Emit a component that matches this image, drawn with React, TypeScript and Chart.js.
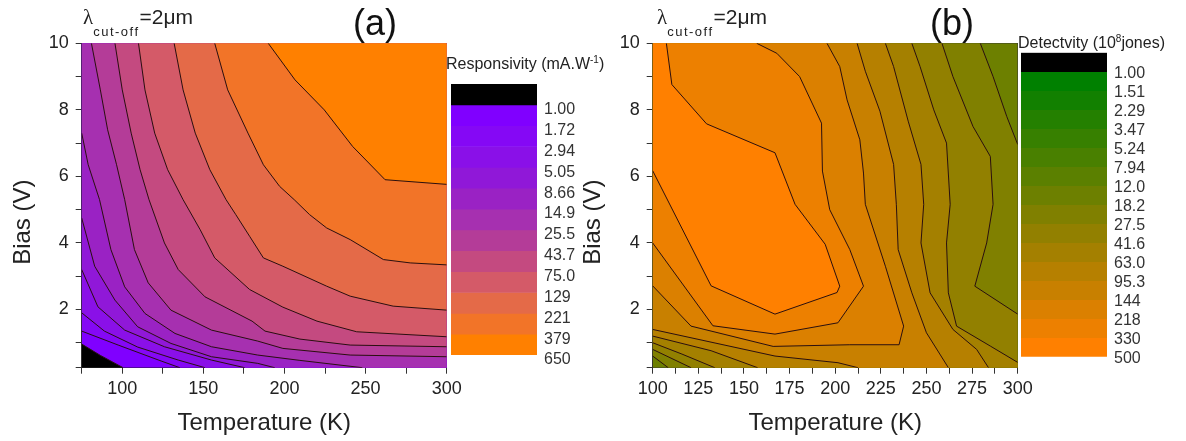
import React, { useEffect, useRef } from 'react';
import { Chart, registerables } from 'chart.js';

Chart.register(...registerables);

type Pt = [number, number];

const FONT = "'Liberation Sans', Arial, Helvetica, sans-serif";
const SERIF = "'Liberation Serif', 'DejaVu Serif', serif";
const LINE_COLOR = '#2a0f0f';

// ---------------- Panel (a): Responsivity (mA/W) ----------------
const respTemperatureRange: Pt = [75, 300];
const respBiasRange: Pt = [0.25, 10];
const respLevelLabels = ['1.00', '1.72', '2.94', '5.05', '8.66', '14.9', '25.5', '43.7', '75.0', '129', '221', '379', '650'];

// contour lines: [Temperature (K), Bias (V)]
const respContour_1_00: Pt[] = [[75, 0.96], [86.5, 0.62], [100.5, 0.25]];
const respContour_1_72: Pt[] = [[75, 1.35], [97.5, 0.93], [124, 0.45], [135.5, 0.25]];
const respContour_2_94: Pt[] = [[75, 1.9], [89, 1.35], [109.5, 0.87], [134.5, 0.48], [151, 0.25]];
const respContour_5_05: Pt[] = [[75, 3.2], [85, 2.08], [101.5, 1.38], [126, 0.88], [155, 0.48], [175.5, 0.25]];
const respContour_8_66: Pt[] = [[75, 4.75], [83, 3.3], [95.5, 2.28], [109.5, 1.48], [130, 0.98], [155, 0.58], [183.5, 0.38], [194, 0.25]];
const respContour_14_9: Pt[] = [[75, 7.3], [79, 6.35], [86, 5.3], [93, 3.8], [101.5, 2.68], [114, 1.88], [132.5, 1.28], [155, 0.88], [183.5, 0.63], [209.5, 0.47], [248, 0.25]];
const respContour_25_5: Pt[] = [[81, 10], [86.5, 8.6], [91, 7.4], [96.5, 6.35], [101.5, 5.3], [107.5, 3.8], [116, 2.8], [130, 1.98], [155, 1.38], [183.5, 1.05], [199, 0.83], [240.5, 0.63], [300, 0.58]];
const respContour_43_7: Pt[] = [[95.5, 10], [100, 8.6], [105.5, 7.3], [111, 6.2], [116.5, 5.3], [126, 4.0], [134.5, 3.2], [151, 2.38], [180, 1.65], [188, 1.35], [209.5, 1.11], [240.5, 0.93], [300, 0.88]];
const respContour_75_0: Pt[] = [[110, 10], [114, 8.6], [120, 7.3], [128, 6.2], [137.5, 5.3], [148, 4.4], [157, 3.55], [178.5, 2.6], [199, 2.07], [220, 1.65], [244.5, 1.33], [300, 1.18]];
const respContour_129: Pt[] = [[132, 10], [137.5, 8.6], [145, 7.3], [154, 6.2], [164, 5.3], [170, 4.85], [178.5, 4.2], [187, 3.55], [199, 3.3], [226, 2.7], [240.5, 2.4], [267, 2.1], [300, 1.98]];
const respContour_221: Pt[] = [[157, 10], [165, 8.6], [177.5, 7.3], [187, 6.35], [197, 5.7], [206, 5.3], [215.5, 4.85], [226, 4.45], [240.5, 4.1], [261, 3.5], [277.5, 3.4], [300, 3.34]];
const respContour_379: Pt[] = [[190, 10], [206.5, 8.9], [224.5, 8.0], [242, 6.9], [262, 5.9], [300, 5.76]];

// colour of each band: below 1.00, then 1.00-1.72 ... 379-650
const respBandColors = ['#000000', '#8000ff', '#8508f5', '#8a10e8', '#9018d8', '#9a22c4', '#a630b0', '#b43c98', '#c44a80', '#d45a68', '#e46a48', '#f27428', '#ff8000'];

// ---------------- Panel (b): Detectivity (1e8 Jones) ----------------
const detTemperatureRange: Pt = [100, 300];
const detBiasRange: Pt = [0.25, 10];
const detLevelLabels = ['1.00', '1.51', '2.29', '3.47', '5.24', '7.94', '12.0', '18.2', '27.5', '41.6', '63.0', '95.3', '144', '218', '330', '500'];

const detContour_330: Pt[] = [[107.5, 10], [110.5, 8.76], [129.5, 7.58], [167, 6.71], [178, 5.16], [194.5, 3.96], [202.5, 2.7], [201, 2.51], [167, 1.86], [132, 2.71], [100, 6.17]];
const detContour_218: Pt[] = [[157, 10], [168, 9.7], [180.5, 9.0], [192.5, 7.6], [193, 6.16], [197, 5.0], [208, 3.8], [215.5, 2.7], [201.5, 1.6], [167, 1.26], [133, 1.51], [100, 4.0]];
const detContour_144: Pt[] = [[195.5, 10], [202.5, 9.3], [206.5, 8.3], [213.5, 7.1], [215.5, 6.1], [216.5, 5.16], [227.5, 3.3], [237.5, 1.5], [235, 0.94], [208, 0.94], [166, 0.89], [121, 1.5], [100, 2.71]];
const detContour_95_3: Pt[] = [[212, 10], [216.5, 9.16], [224.5, 7.96], [232, 6.36], [233.5, 5.16], [234.5, 3.8], [242, 2.5], [250, 1.3], [262, 0.25]];
const detContour_95_3_low: Pt[] = [[100, 1.4], [167, 0.6], [201.5, 0.4], [212.5, 0.25]];
const detContour_63_0: Pt[] = [[227.5, 10], [232, 9.3], [240, 7.66], [247, 6.36], [248.5, 5.16], [247, 4.0], [252, 2.5], [264.5, 1.4], [277.5, 0.8], [284, 0.25]];
const detContour_63_0_low: Pt[] = [[100, 1.2], [132, 0.76], [157.5, 0.25]];
const detContour_41_6: Pt[] = [[242, 10], [246.5, 9.3], [254, 8.0], [261, 7.0], [263, 5.16], [261, 4.0], [262, 2.5], [266.5, 1.5], [285, 0.9], [300, 0.41]];
const detContour_41_6_low: Pt[] = [[100, 1.0], [116, 0.66], [134, 0.25]];
const detContour_27_5: Pt[] = [[258.5, 10], [264.5, 9.0], [275.5, 7.5], [285, 6.6], [286.5, 5.16], [283, 4.0], [276.5, 2.7], [300, 1.86]];
const detContour_27_5_low: Pt[] = [[100, 0.8], [121, 0.25]];
const detContour_18_2: Pt[] = [[279.5, 10], [286.5, 9.0], [294, 7.8], [300, 6.96]];
const detContour_18_2_low: Pt[] = [[100, 0.6], [108.5, 0.25]];

// colour of each band: below 1.00, then 1.00-1.51 ... 330-500
const detBandColors = ['#000000', '#008000', '#128000', '#248000', '#378000', '#498000', '#5b8000', '#6d8000', '#808000', '#928000', '#a48000', '#b68000', '#c88000', '#db8000', '#ed8000', '#ff8000'];

// ---------------- region building ----------------
function corners(xr: Pt, yr: Pt) {
  return {
    BL: [xr[0], yr[0]] as Pt,
    BR: [xr[1], yr[0]] as Pt,
    TR: [xr[1], yr[1]] as Pt,
    TL: [xr[0], yr[1]] as Pt,
  };
}
const rev = (p: Pt[]) => [...p].reverse();

const rc = corners(respTemperatureRange, respBiasRange);
const respRegions: Pt[][] = [
  [rc.BL, rc.BR, rc.TR, rc.TL],
  [...respContour_1_00, rc.BR, rc.TR, rc.TL],
  [...respContour_1_72, rc.BR, rc.TR, rc.TL],
  [...respContour_2_94, rc.BR, rc.TR, rc.TL],
  [...respContour_5_05, rc.BR, rc.TR, rc.TL],
  [...respContour_8_66, rc.BR, rc.TR, rc.TL],
  [...respContour_14_9, rc.BR, rc.TR, rc.TL],
  [...respContour_25_5, rc.TR],
  [...respContour_43_7, rc.TR],
  [...respContour_75_0, rc.TR],
  [...respContour_129, rc.TR],
  [...respContour_221, rc.TR],
  [...respContour_379, rc.TR],
];
const respRegionColors = respBandColors;
const respLines = [respContour_1_00, respContour_1_72, respContour_2_94, respContour_5_05, respContour_8_66, respContour_14_9,
  respContour_25_5, respContour_43_7, respContour_75_0, respContour_129, respContour_221, respContour_379];

const dc = corners(detTemperatureRange, detBiasRange);
const detRegions: Pt[][] = [
  [dc.BL, dc.BR, dc.TR, dc.TL],
  [...detContour_18_2, dc.BR, ...rev(detContour_18_2_low), dc.TL],
  [...detContour_27_5, dc.BR, ...rev(detContour_27_5_low), dc.TL],
  [...detContour_41_6, dc.BR, ...rev(detContour_41_6_low), dc.TL],
  [...detContour_63_0, ...rev(detContour_63_0_low), dc.TL],
  [...detContour_95_3, ...rev(detContour_95_3_low), dc.TL],
  [...detContour_144, dc.TL],
  [...detContour_218, dc.TL],
  [...detContour_330, dc.TL],
];
const detRegionColors = detBandColors.slice(7);
const detLines = [detContour_330, detContour_218, detContour_144, detContour_95_3, detContour_95_3_low, detContour_63_0, detContour_63_0_low,
  detContour_41_6, detContour_41_6_low, detContour_27_5, detContour_27_5_low, detContour_18_2, detContour_18_2_low];

// ---------------- charts ----------------
interface ContourCfg {
  xRange: Pt; yRange: Pt; regions: Pt[][]; regionColors: string[]; lines: Pt[][];
  xStep: number; xLabel: (v: number) => string; yAxisWidth: number; rightAxisWidth: number; yTitlePad: number;
}

function buildContour(canvas: HTMLCanvasElement, cfg: ContourCfg) {
  const toXY = (pts: Pt[]) => pts.map(([x, y]) => ({ x, y }));
  const datasets: any[] = [];
  cfg.regions.forEach((poly, i) => datasets.push({
    data: toXY(poly), xAxisID: 'x', yAxisID: 'y', fill: 'shape', backgroundColor: cfg.regionColors[i],
    borderWidth: 0, borderColor: 'rgba(0,0,0,0)', pointRadius: 0, pointHoverRadius: 0, tension: 0, order: 1000 - i,
  }));
  cfg.lines.forEach((line) => datasets.push({
    data: toXY(line), xAxisID: 'x', yAxisID: 'y', fill: false, borderColor: LINE_COLOR, borderWidth: 1,
    pointRadius: 0, pointHoverRadius: 0, tension: 0, order: 0,
  }));
  const tickFont = { family: FONT, size: 18 };
  const titleFont = { family: FONT, size: 24 };
  const frame = { display: true, color: '#333333', width: 1 };
  const tickGrid = { display: true, drawOnChartArea: false, drawTicks: true, tickLength: 6, tickColor: '#333333' };
  return new Chart(canvas, {
    type: 'line',
    data: { datasets },
    options: {
      animation: false,
      responsive: false,
      maintainAspectRatio: false,
      events: [],
      layout: { padding: { left: 0, right: 0, top: 43.3, bottom: 0 } },
      plugins: { legend: { display: false }, tooltip: { enabled: false }, title: { display: false } },
      scales: {
        x: {
          type: 'linear', position: 'bottom', min: cfg.xRange[0], max: cfg.xRange[1],
          ticks: { stepSize: cfg.xStep, autoSkip: false, maxRotation: 0, padding: 4.5, color: '#222222', font: tickFont,
            callback: (v: any) => cfg.xLabel(Number(v)) },
          grid: tickGrid, border: frame,
          title: { display: true, text: 'Temperature (K)', color: '#222222', font: titleFont, padding: { top: 0, bottom: 3 } },
          afterFit: (s: any) => { s.height = 73.3; },
        },
        y: {
          type: 'linear', position: 'left', min: cfg.yRange[0], max: cfg.yRange[1],
          ticks: { stepSize: 1, autoSkip: false, padding: 7, color: '#222222', font: tickFont,
            callback: (v: any) => { const n = Number(v); return n >= 2 && Math.abs(n % 2) < 1e-9 ? String(n) : ''; } },
          grid: tickGrid, border: frame,
          title: { display: true, text: 'Bias (V)     ', color: '#222222', font: titleFont, padding: { top: cfg.yTitlePad, bottom: 0 } },
          afterFit: (s: any) => { s.width = cfg.yAxisWidth; },
        },
        x2: {
          type: 'linear', position: 'top', min: cfg.xRange[0], max: cfg.xRange[1],
          ticks: { display: false }, grid: { display: false, drawTicks: false }, border: frame,
          afterFit: (s: any) => { s.height = 0; },
        },
        y2: {
          type: 'linear', position: 'right', min: cfg.yRange[0], max: cfg.yRange[1],
          ticks: { display: false }, grid: { display: false, drawTicks: false }, border: frame,
          afterFit: (s: any) => { s.width = cfg.rightAxisWidth; },
        },
      },
    } as any,
  });
}

interface BarCfg { colors: string[]; labels: string[]; padding: any; axisWidth: number; labelOffset: number; }

function buildColorbar(canvas: HTMLCanvasElement, cfg: BarCfg) {
  return new Chart(canvas, {
    type: 'bar',
    data: {
      labels: ['scale'],
      datasets: cfg.colors.map((c) => ({ data: [1], backgroundColor: c, borderWidth: 0, barPercentage: 1, categoryPercentage: 1 })),
    },
    options: {
      animation: false,
      responsive: false,
      maintainAspectRatio: false,
      events: [],
      layout: { padding: cfg.padding },
      plugins: { legend: { display: false }, tooltip: { enabled: false } },
      scales: {
        x: { stacked: true, display: false },
        y: {
          stacked: true, position: 'right', min: 0, max: cfg.colors.length, reverse: true,
          ticks: { stepSize: 1, autoSkip: false, padding: 7, labelOffset: cfg.labelOffset, color: '#333333', font: { family: FONT, size: 16 },
            callback: (v: any) => { const i = Math.round(Number(v)); return i >= 1 ? cfg.labels[i - 1] : ''; } },
          grid: { display: false, drawTicks: false }, border: { display: false },
          afterFit: (s: any) => { s.width = cfg.axisWidth; },
        },
      },
    } as any,
  });
}

const abs = (l: number, t: number, w: number, h: number): React.CSSProperties => ({ position: 'absolute', left: l, top: t, width: w, height: h });

function Lambda({ left }: { left: number }) {
  return (
    <div style={{ position: 'absolute', left, top: 5.5, fontFamily: FONT, fontSize: 21, lineHeight: '21px', color: '#222', whiteSpace: 'nowrap' }}>
      <span style={{ fontFamily: SERIF }}>λ</span>
      <span style={{ fontSize: 13, letterSpacing: 1.5, position: 'relative', top: 12 }}>cut-off</span>
      <span>=2μm</span>
    </div>
  );
}

export default function App() {
  const aRef = useRef<HTMLCanvasElement>(null);
  const bRef = useRef<HTMLCanvasElement>(null);
  const caRef = useRef<HTMLCanvasElement>(null);
  const cbRef = useRef<HTMLCanvasElement>(null);

  useEffect(() => {
    const charts = [
      buildContour(aRef.current!, {
        xRange: respTemperatureRange, yRange: respBiasRange, regions: respRegions, regionColors: respRegionColors, lines: respLines,
        xStep: 25, xLabel: (n) => (n >= 100 && n % 50 === 0 ? String(n) : ''), yAxisWidth: 81.7, rightAxisWidth: 23.3, yTitlePad: 8.6,
      }),
      buildContour(bRef.current!, {
        xRange: detTemperatureRange, yRange: detBiasRange, regions: detRegions, regionColors: detRegionColors, lines: detLines,
        xStep: 12.5, xLabel: (n) => (n % 25 === 0 ? String(n) : ''), yAxisWidth: 92.7, rightAxisWidth: 22.3, yTitlePad: 19.1,
      }),
      buildColorbar(caRef.current!, {
        colors: respBandColors, labels: respLevelLabels, padding: { left: 11, top: 44, right: 0, bottom: 25 }, axisWidth: 53, labelOffset: 5,
      }),
      buildColorbar(cbRef.current!, {
        colors: detBandColors, labels: detLevelLabels, padding: { left: 11, top: 22.7, right: 0, bottom: 33.3 }, axisWidth: 79, labelOffset: 2,
      }),
    ];
    return () => charts.forEach((c) => c.destroy());
  }, []);

  return (
    <div style={{ position: 'absolute', left: 0, top: 0, width: 1186, height: 441, background: '#ffffff', overflow: 'hidden', fontFamily: FONT }}>
      <canvas ref={aRef} width={470} height={441} style={abs(0, 0, 470, 441)} />
      <canvas ref={caRef} width={150} height={340} style={abs(440, 40, 150, 340)} />
      <canvas ref={bRef} width={480} height={441} style={abs(560, 0, 480, 441)} />
      <canvas ref={cbRef} width={176} height={360} style={abs(1010, 30, 176, 360)} />

      <Lambda left={83} />
      <Lambda left={657} />
      <div style={{ position: 'absolute', left: 353, top: 5, fontSize: 36, lineHeight: '36px', color: '#111', fontFamily: FONT }}>(a)</div>
      <div style={{ position: 'absolute', left: 930, top: 5, fontSize: 36, lineHeight: '36px', color: '#111', fontFamily: FONT }}>(b)</div>
      <div style={{ position: 'absolute', left: 446, top: 56.2, fontSize: 16, lineHeight: '16px', color: '#222', whiteSpace: 'nowrap', fontFamily: FONT }}>
        Responsivity (mA.W<span style={{ fontSize: 10, position: 'relative', top: -6 }}>-1</span>)
      </div>
      <div style={{ position: 'absolute', left: 1018, top: 34.9, fontSize: 16, lineHeight: '16px', color: '#222', whiteSpace: 'nowrap', fontFamily: FONT }}>
        Detectvity (10<span style={{ fontSize: 10, position: 'relative', top: -6 }}>8</span>jones)
      </div>
    </div>
  );
}
